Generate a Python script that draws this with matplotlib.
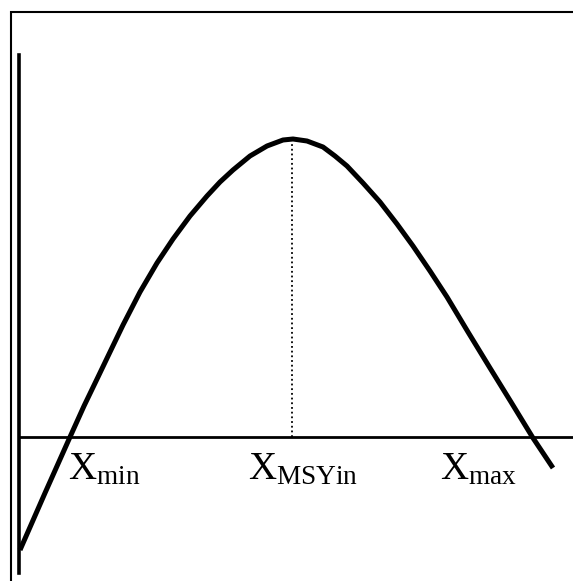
import matplotlib
matplotlib.use("Agg")
import matplotlib.pyplot as plt
from matplotlib.patches import Rectangle

plt.rcParams['mathtext.fontset'] = 'custom'
plt.rcParams['mathtext.rm'] = 'Liberation Serif'
plt.rcParams['mathtext.it'] = 'Liberation Serif:italic'

# Curve (stock on x, surplus production on y)
stock = [1, 26, 51, 65, 79, 91, 104, 121, 138, 154, 171, 188, 201, 214,
         231, 248, 264, 274, 288, 304, 316, 328, 344, 361, 378, 394, 411,
         428, 449, 471, 492, 514, 534]
production = [-113, -56, 0, 31, 60, 85, 112, 145, 174, 198, 221, 241, 255, 267,
              281, 291, 297, 298, 296, 290, 281, 271, 254, 235, 213, 191, 166,
              140, 105, 69, 35, -1, -31]

x_msy = 273
y_msy = 298
labels = [r'$\mathrm{X}_{\mathrm{min}}$', r'$\mathrm{X}_{\mathrm{MSYin}}$', r'$\mathrm{X}_{\mathrm{max}}$']
label_x = [49, 229, 421]

fig = plt.figure(figsize=(5.73, 5.81), dpi=100)
ax = fig.add_axes([0, 0, 1, 1])
ax.set_xlim(-19, 554)
ax.set_ylim(-144, 437)

# outer frame (right and bottom edges run off the image)
fig.patches.append(Rectangle((11 / 573, -0.1), 1.2, 1.1 - 12 / 581,
                             transform=fig.transFigure, fill=False,
                             edgecolor='black', linewidth=1.5))

ax.plot(stock, production, color='black', linewidth=3.6, solid_capstyle='butt',
        solid_joinstyle='round')
ax.plot([x_msy, x_msy], [0, y_msy - 5], color='black', linewidth=1.3,
        linestyle=(0, (1, 1.6)))

for spine in ['top', 'right']:
    ax.spines[spine].set_visible(False)
ax.spines['left'].set_position(('data', 0))
ax.spines['left'].set_bounds(-136, 382)
ax.spines['left'].set_linewidth(2.6)
ax.spines['bottom'].set_position(('data', 0))
ax.spines['bottom'].set_bounds(0, 560)
ax.spines['bottom'].set_linewidth(2.0)
ax.set_xticks([])
ax.set_yticks([])
ax.patch.set_alpha(0)

for lab, lx in zip(labels, label_x):
    ax.text(lx, -42, lab, fontsize=28, ha='left', va='baseline', color='black')

fig.savefig('out.png', dpi=100)
